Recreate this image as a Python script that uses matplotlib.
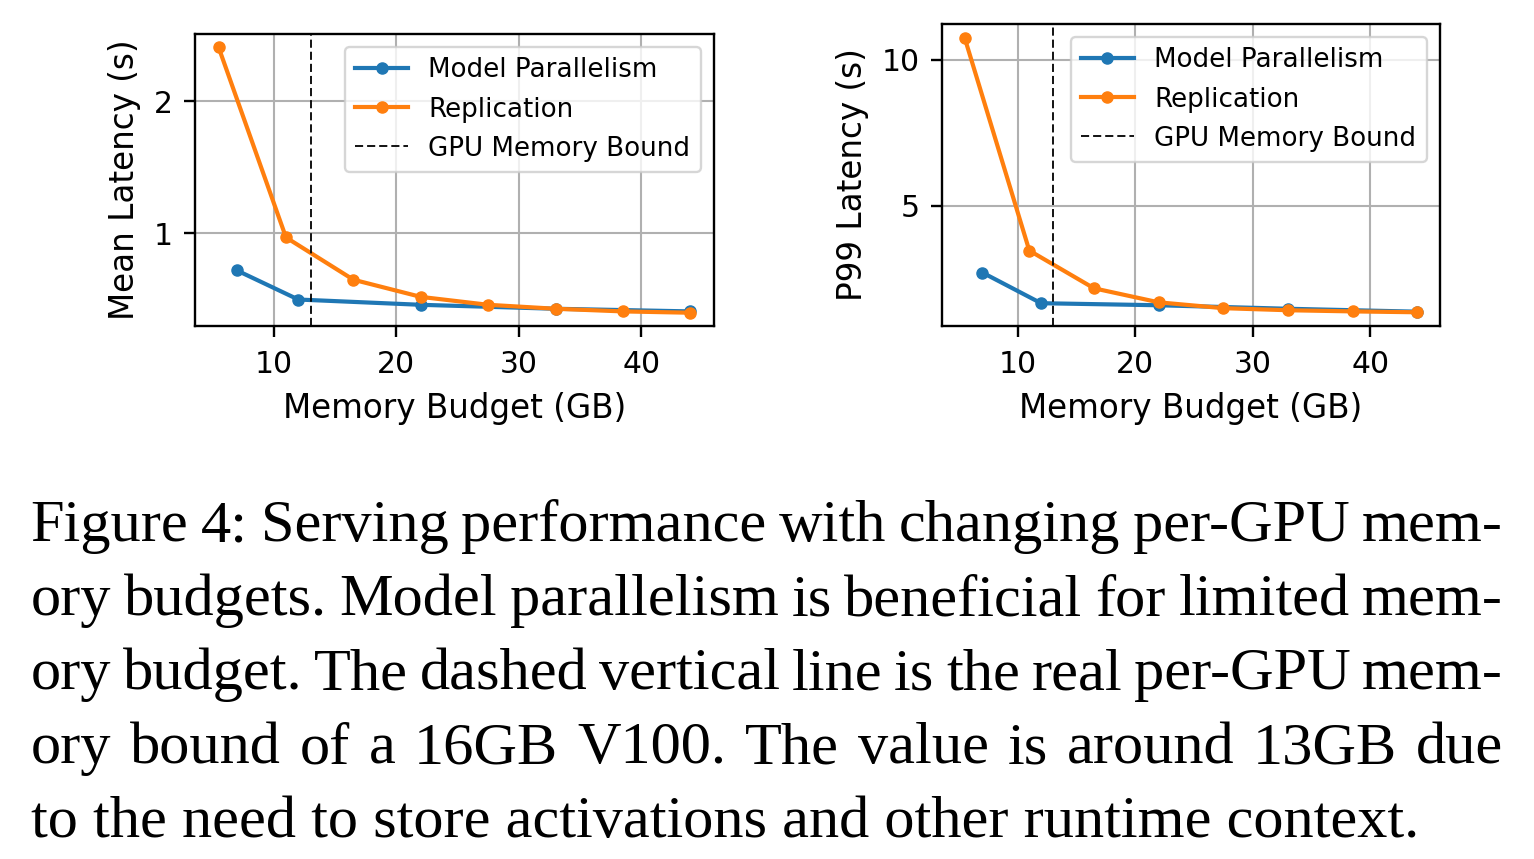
import matplotlib
matplotlib.use("Agg")
from matplotlib import pyplot as plt

# memory budget (GB) and latencies
mp_budget = [7, 12, 22, 33, 44]
mp_mean = [0.72, 0.50, 0.46, 0.43, 0.41]
mp_p99 = [2.72, 1.67, 1.60, 1.48, 1.38]

rep_budget = [5.5, 11, 16.5, 22, 27.5, 33, 38.5, 44]
rep_mean = [2.41, 0.97, 0.65, 0.52, 0.46, 0.43, 0.41, 0.40]
rep_p99 = [10.75, 3.47, 2.18, 1.70, 1.50, 1.43, 1.39, 1.36]

gpu_bound = 13
xticks = [10, 20, 30, 40]

caption_lines = [
    "Figure 4: Serving performance with changing per-GPU mem-",
    "ory budgets. Model parallelism is beneficial for limited mem-",
    "ory budget. The dashed vertical line is the real per-GPU mem-",
    "ory bound of a 16GB V100. The value is around 13GB due",
    "to the need to store activations and other runtime context.",
]

plt.rcParams["font.family"] = "DejaVu Sans"
plt.rcParams["axes.linewidth"] = 1.7
plt.rcParams["xtick.major.size"] = 8
plt.rcParams["ytick.major.size"] = 8
plt.rcParams["xtick.major.width"] = 1.7
plt.rcParams["ytick.major.width"] = 1.7
plt.rcParams["xtick.major.pad"] = 9
plt.rcParams["ytick.major.pad"] = 8

W, H = 1534, 859
fig = plt.figure(figsize=(W / 100, H / 100), dpi=100)


def px_axes(x0, y0, x1, y1):
    return fig.add_axes([x0 / W, 1 - y1 / H, (x1 - x0) / W, (y1 - y0) / H])


ax1 = px_axes(195, 34, 714, 326)
ax2 = px_axes(942, 24, 1440, 326)

for ax, mp, rep, ylab, yt in [
    (ax1, mp_mean, rep_mean, "Mean Latency (s)", [1, 2]),
    (ax2, mp_p99, rep_p99, "P99 Latency (s)", [5, 10]),
]:
    ax.plot(mp_budget, mp, marker="o", color="#1f77b4", lw=3, ms=8,
            label="Model Parallelism")
    ax.plot(rep_budget, rep, marker="o", color="#ff7f0e", lw=3, ms=8,
            label="Replication")
    ax.axvline(gpu_bound, color="black", ls=(0, (4.5, 2.2)), lw=1.3,
               label="GPU Memory Bound")
    ax.grid(True, color="#b0b0b0", lw=1.5)
    ax.set_xticks(xticks)
    ax.set_yticks(yt)
    ax.tick_params(labelsize=21.5)
    ax.set_xlabel("Memory Budget (GB)", fontsize=23.5, labelpad=10)
    ax.set_ylabel(ylab, fontsize=23.5, labelpad=9)
    leg = ax.legend(loc="upper right", fontsize=18.8)
    leg.get_frame().set_linewidth(1.7)

# caption, justified like the paper text
cap_size = 43.5
left, right = 30.7, 1503
baselines = [541, 615, 689, 763, 837]
renderer = fig.canvas.get_renderer()


def text_width(s):
    t = fig.text(0, 0, s, fontsize=cap_size, family="Liberation Serif")
    w = t.get_window_extent(renderer).width
    t.remove()
    return w


for i, (line, base) in enumerate(zip(caption_lines, baselines)):
    y = 1 - base / H
    words = line.split(" ")
    if i == len(caption_lines) - 1:
        fig.text(left / W, y, line, fontsize=cap_size, family="Liberation Serif",
                 va="baseline", ha="left")
        continue
    widths = [text_width(w) for w in words]
    gap = (right - left - sum(widths)) / (len(words) - 1)
    x = left
    for w, wd in zip(words, widths):
        fig.text(x / W, y, w, fontsize=cap_size, family="Liberation Serif",
                 va="baseline", ha="left")
        x += wd + gap

fig.savefig("out.png", dpi=100)
